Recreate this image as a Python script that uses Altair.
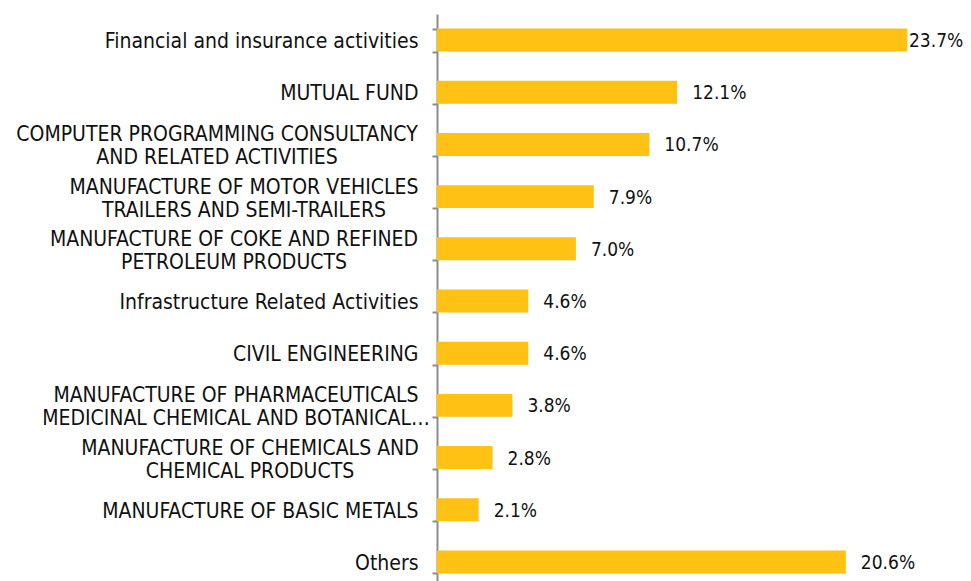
import altair as alt
import pandas as pd

categories = [
    "Financial and insurance activities",
    "MUTUAL FUND",
    "COMPUTER PROGRAMMING  CONSULTANCY|AND RELATED ACTIVITIES",
    "MANUFACTURE OF MOTOR VEHICLES|TRAILERS AND SEMI-TRAILERS",
    "MANUFACTURE OF COKE AND REFINED|PETROLEUM PRODUCTS",
    "Infrastructure Related Activities",
    "CIVIL ENGINEERING",
    "MANUFACTURE OF PHARMACEUTICALS|MEDICINAL CHEMICAL AND BOTANICAL\u2026",
    "MANUFACTURE OF CHEMICALS AND|CHEMICAL PRODUCTS",
    "MANUFACTURE OF BASIC METALS",
    "Others",
]
values = [23.7, 12.1, 10.7, 7.9, 7.0, 4.6, 4.6, 3.8, 2.8, 2.1, 20.6]

df = pd.DataFrame({"category": categories, "value": values})

FONT = "DejaVu Sans Condensed, DejaVu Sans"
COLOR = "#FFC114"
TXT = "#111111"
LABEL_SIZE = 21

# two-line labels are centred on themselves: offset (px, left of the axis) of their centre
centre_off = {
    "CONSULTANCY": 220,
    "MOTOR VEHICLES": 193,
    "COKE AND REFINED": 203,
    "PHARMACEUTICALS": 201,
    "CHEMICALS AND": 187,
}
dx_expr = ""
for key, off in centre_off.items():
    dx_expr += "indexof(datum.category, '%s') >= 0 ? %d : " % (key, -off)
dx_expr += "-200"

y_enc = alt.Y(
    "category:N",
    sort=categories,
    scale=alt.Scale(paddingInner=0.56, paddingOuter=0.28),
    axis=alt.Axis(
        title=None,
        labelExpr="indexof(datum.label, '|') >= 0 ? '' : datum.label",
        labelFont=FONT,
        labelFontSize=LABEL_SIZE,
        labelColor=TXT,
        labelPadding=14,
        labelOffset=1.5,
        labelLimit=0,
        tickBand="extent",
        tickSize=5,
        tickColor="#8c8c8c",
        tickWidth=2,
        domainColor="#8c8c8c",
        domainWidth=2,
    ),
)

x_enc = alt.X("value:Q", scale=alt.Scale(domain=[0, 26], nice=False), axis=None)

bars = alt.Chart(df).mark_bar(color=COLOR).encode(x=x_enc, y=y_enc)

values_txt = (
    alt.Chart(df)
    .transform_calculate(lbl="format(datum.value, '.1f') + '%'")
    .mark_text(
        align="left", baseline="middle", font=FONT, fontSize=19, color=TXT, dy=1,
        dx={"expr": "min(15, width + 10 - 54 - scale('x', datum.value))"},
    )
    .encode(x=x_enc, y=y_enc, text="lbl:N")
)

two_line = (
    alt.Chart(df)
    .transform_filter("indexof(datum.category, '|') >= 0")
    .mark_text(
        align="center", baseline="middle", font=FONT, fontSize=LABEL_SIZE, color=TXT,
        lineBreak="|", lineHeight=23, dy=-9, dx={"expr": dx_expr},
    )
    .encode(x=alt.value(0), y=y_enc, text="category:N")
)

chart = (
    alt.layer(bars, values_txt, two_line)
    .properties(
        width=516,
        height=574,
        autosize=alt.AutoSizeParams(type="none"),
        padding={"left": 429, "top": 6, "right": 10, "bottom": 0},
    )
    .configure_view(stroke=None)
)

chart.save("out.html", embed_options={"renderer": "svg", "actions": False})
